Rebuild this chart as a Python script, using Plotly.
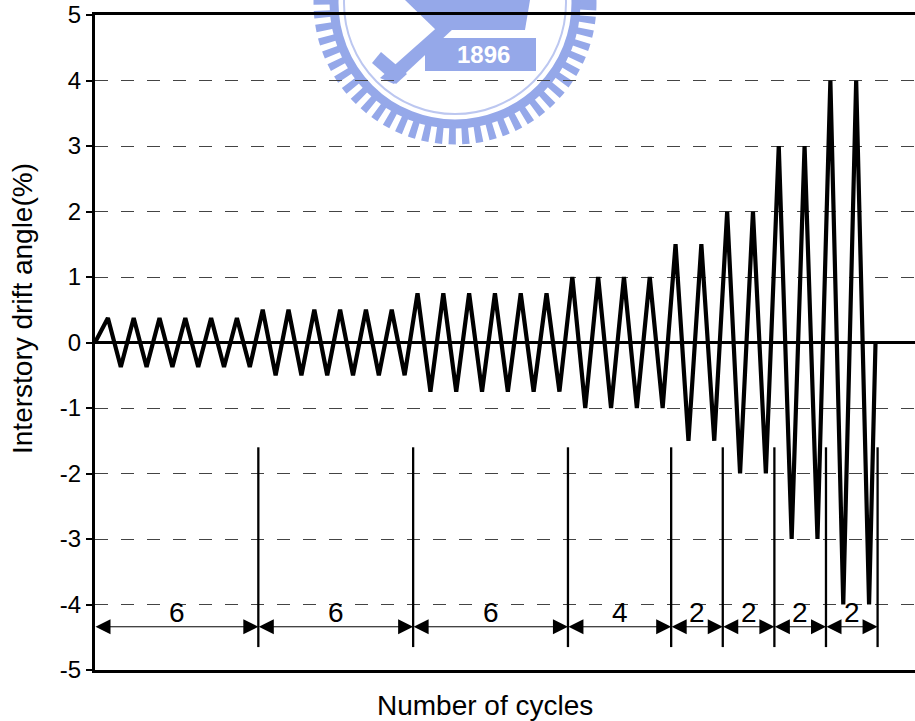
import plotly.graph_objects as go

# ---- data ----
amplitudes = [0.375, 0.5, 0.75, 1.0, 1.5, 2.0, 3.0, 4.0]   # drift angle (%) of each step
cycles_per_step = [6, 6, 6, 4, 2, 2, 2, 2]                 # number of cycles at each step
y_tick_vals = [-5, -4, -3, -2, -1, 0, 1, 2, 3, 4, 5]
y_tick_text = ["-5", "-4", "-3", "-2", "-1", "0", "1", "2", "3", "4", "5"]

# build the loading protocol (triangular wave) from the step data
xs, ys = [0.0], [0.0]
k = 0
for amp, n in zip(amplitudes, cycles_per_step):
    for _ in range(n):
        xs += [k + 0.5, k + 1.0]
        ys += [amp, -amp]
        k += 1
xs.append(k + 0.25)
ys.append(0.0)

# figure geometry (pixels)
W, H = 915, 721
L, R, T, B = 95, 0, 15, 51
PW, PH = W - L - R, H - T - B
X_MAX = 31.78

def pp(px, py):
    return (px - L) / PW, (H - B - py) / PH

fig = go.Figure()
fig.add_trace(go.Scatter(x=xs, y=ys, mode="lines",
                         line=dict(color="black", width=4.2),
                         hoverinfo="skip", showlegend=False))

FONT = "Liberation Sans, Arial, sans-serif"
shapes = []
annotations = []

# ---- watermark emblem (light blue, behind everything) ----
wm = "#95a8e9"
cx, cy = 455, 3
def circ(r, width, dash=None, color=wm):
    x0, y0 = pp(cx - r, cy + r)
    x1, y1 = pp(cx + r, cy - r)
    d = dict(type="circle", xref="paper", yref="paper", x0=x0, y0=y0, x1=x1, y1=y1,
             line=dict(color=color, width=width), layer="below")
    if dash:
        d["line"]["dash"] = dash
    return d
shapes.append(circ(133, 17, dash="7px,6px"))
shapes.append(circ(121, 9))
shapes.append(circ(111, 2, color="#bcc7f0"))
def poly(points, color=wm):
    path = "M " + " L ".join(f"{pp(a, b)[0]:.5f},{pp(a, b)[1]:.5f}" for a, b in points) + " Z"
    return dict(type="path", xref="paper", yref="paper", path=path,
                fillcolor=color, line=dict(width=0), layer="below")
shapes.append(poly([(405, 0), (530, 0), (525, 30), (436, 30)]))
shapes.append(poly([(425, 38), (536, 38), (536, 71), (425, 71)]))
shapes.append(poly([(380, 78), (468, 0), (484, 0), (394, 84)]))
shapes.append(poly([(381, 52), (407, 74), (396, 84), (372, 63)]))
x0p, y0p = pp(483, 55)
annotations.append(dict(x=x0p, y=y0p, xref="paper", yref="paper", text="<b>1896</b>",
                        xanchor="center", yanchor="middle", showarrow=False,
                        font=dict(family=FONT, size=24, color="white")))

# ---- cycle-count dimension lines ----
bounds = []
c = 0
for n in cycles_per_step:
    c += n
    bounds.append(c + 0.33)
prev = 0.0
for n, b in zip(cycles_per_step, bounds):
    shapes.append(dict(type="line", xref="x", yref="y", x0=b, x1=b, y0=-1.6, y1=-4.65,
                       line=dict(color="black", width=2.3)))
    annotations.append(dict(x=b, y=-4.34, ax=prev, ay=-4.34, xref="x", yref="y",
                            axref="x", ayref="y", text="", showarrow=True,
                            arrowside="end+start", arrowhead=2, startarrowhead=2,
                            arrowsize=3, startarrowsize=3, arrowwidth=1,
                            arrowcolor="black", standoff=0, startstandoff=0, borderpad=0))
    annotations.append(dict(x=(prev + b) / 2, y=-4.12, xref="x", yref="y", text=str(n),
                            xanchor="center", yanchor="middle",
                            showarrow=False, font=dict(family=FONT, size=28, color="black")))
    prev = b

# ---- axis titles ----
tx, ty = pp(22, 309)
annotations.append(dict(x=tx, y=ty, xref="paper", yref="paper", text="Interstory drift angle(%)",
                        textangle=-90, xanchor="center", yanchor="middle", showarrow=False,
                        font=dict(family=FONT, size=28, color="black")))
tx, ty = pp(485, 705)
annotations.append(dict(x=tx, y=ty, xref="paper", yref="paper", text="Number of cycles",
                        xanchor="center", yanchor="middle", showarrow=False,
                        font=dict(family=FONT, size=28, color="black")))

fig.update_layout(
    width=W, height=H,
    margin=dict(l=L, r=R, t=T, b=B),
    paper_bgcolor="white", plot_bgcolor="white",
    showlegend=False,
    shapes=shapes, annotations=annotations,
    xaxis=dict(range=[0, X_MAX], showticklabels=False, ticks="", showgrid=False,
               zeroline=False, showline=True, mirror=True, linewidth=3, linecolor="black"),
    yaxis=dict(range=[-5, 5], tickvals=y_tick_vals, ticktext=y_tick_text,
               ticks="outside", ticklen=6, tickwidth=2, tickcolor="black",
               tickfont=dict(family=FONT, size=24, color="black"),
               showgrid=True, gridcolor="#444444", gridwidth=1, griddash="13px,13px",
               zeroline=True, zerolinecolor="black", zerolinewidth=2.5,
               showline=True, linewidth=3, linecolor="black", mirror=False),
)

fig.write_html("out.html", config={"displayModeBar": False},
               post_script="document.body.style.margin='0';")
